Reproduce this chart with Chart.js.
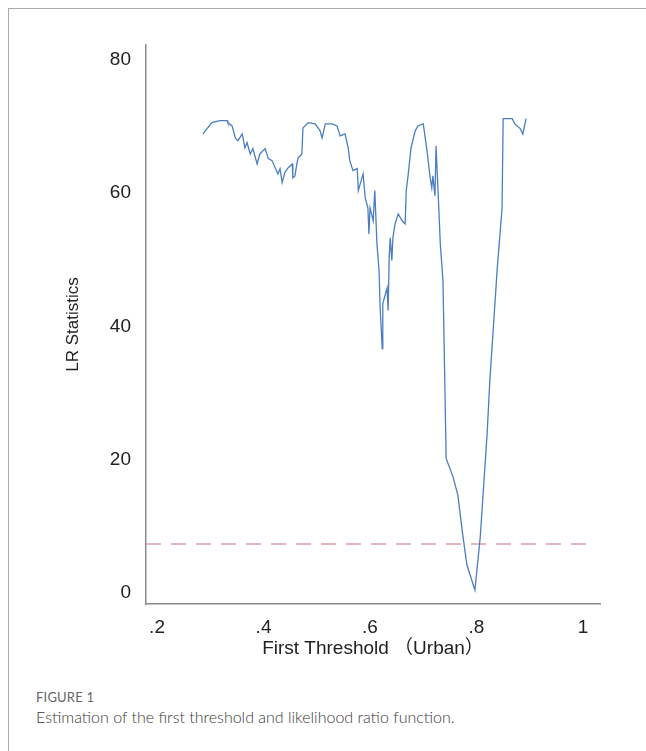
<!DOCTYPE html>
<html>
<head>
<meta charset="utf-8">
<script src="https://cdn.jsdelivr.net/npm/chart.js@4.4.1/dist/chart.umd.min.js"></script>
<style>
  body { margin: 0; background: #fff; width: 646px; height: 751px; overflow: hidden; position: relative; }
  #frame { position: absolute; left: 8px; top: 8px; width: 660px; height: 760px; border-top: 1px solid #aaa; border-left: 1px solid #aaa; }
  #chart-area { position: absolute; left: 0; top: 0; }
  #fig { position: absolute; left: 36px; top: 689px; font-family: Lato, sans-serif; font-size: 13px; color: #666; letter-spacing: 0.2px; }
  #caption { position: absolute; left: 36px; top: 707px; font-family: Lato, sans-serif; font-weight: 300; font-size: 16px; color: #3a3a3a; }
</style>
</head>
<body>
<div id="frame"></div>
<canvas id="chart-area" width="646" height="680"></canvas>
<div id="fig">FIGURE 1</div>
<div id="caption">Estimation of the first threshold and likelihood ratio function.</div>
<script>
// threshold values (x) and LR statistics (y)
var thresholds = [0.286, 0.303, 0.318, 0.332, 0.333, 0.341, 0.347, 0.352, 0.360, 0.365,
    0.369, 0.375, 0.380, 0.388, 0.393, 0.403, 0.409, 0.416, 0.422, 0.427,
    0.431, 0.435, 0.440, 0.446, 0.454, 0.455, 0.459, 0.463, 0.465, 0.472,
    0.474, 0.484, 0.497, 0.506, 0.510, 0.516, 0.529, 0.538, 0.544, 0.553,
    0.559, 0.562, 0.568, 0.576, 0.578, 0.587, 0.591, 0.596, 0.598, 0.600,
    0.606, 0.609, 0.613, 0.617, 0.619, 0.623, 0.624, 0.632, 0.634, 0.636,
    0.638, 0.641, 0.643, 0.647, 0.653, 0.660, 0.666, 0.668, 0.671, 0.677,
    0.685, 0.690, 0.700, 0.707, 0.713, 0.716, 0.718, 0.722, 0.724, 0.728,
    0.732, 0.737, 0.743, 0.756, 0.765, 0.773, 0.782, 0.797, 0.807, 0.820,
    0.825, 0.839, 0.848, 0.850, 0.867, 0.872, 0.882, 0.887, 0.893];
var lrStats = [68.9, 70.6, 70.9, 70.9, 70.6, 70.1, 68.3, 67.9, 68.9, 66.8,
    67.6, 65.9, 66.7, 64.4, 65.9, 66.7, 65.2, 64.9, 63.8, 62.9,
    63.7, 61.6, 63.1, 63.8, 64.4, 62.3, 62.6, 64.6, 65.3, 65.9,
    69.8, 70.6, 70.4, 69.4, 68.3, 70.4, 70.4, 70.1, 68.6, 68.9,
    66.8, 64.9, 63.4, 63.7, 60.4, 62.9, 59.3, 57.8, 53.9, 57.8,
    55.9, 60.4, 52.4, 48.4, 42.8, 36.7, 43.4, 45.8, 42.4, 50.3,
    53.3, 49.9, 53.3, 55.4, 56.9, 55.9, 55.4, 60.4, 62.3, 66.8,
    69.4, 70.1, 70.4, 66.4, 62.3, 60.8, 62.6, 59.6, 67.1, 59.9,
    52.4, 46.9, 20.2, 17.4, 14.7, 9.4, 4.2, 0.45, 8.4, 24.0,
    31.9, 48.8, 57.8, 71.2, 71.2, 70.4, 69.7, 68.9, 71.2];

// 5% critical value (dashed line)
var criticalValue = 7.35;

var xTicks = [0.2, 0.4, 0.6, 0.8, 1];
var yTicks = [0, 20, 40, 60, 80];
var xRange = [0.1793, 1.0319];
var yRange = [-1.65, 82.25];

var lrPoints = [];
for (var i = 0; i < thresholds.length; i++) {
    lrPoints.push({ x: thresholds[i], y: lrStats[i] });
}
var critPoints = [{ x: xRange[0], y: criticalValue }, { x: 1.016, y: criticalValue }];

var tickFont = { family: "'Liberation Sans', Arial, sans-serif", size: 19 };
var titleFont = { family: "'Liberation Sans', Arial, 'Noto Sans CJK SC', sans-serif", size: 19 };

var config = {
    type: 'line',
    data: {
        datasets: [{
            data: lrPoints,
            borderColor: '#4b7dc1',
            borderWidth: 1.3,
            pointRadius: 0,
            tension: 0,
            fill: false
        }, {
            data: critPoints,
            borderColor: '#d7a3a6',
            borderWidth: 1.6,
            borderDash: [15, 10],
            pointRadius: 0,
            tension: 0,
            fill: false
        }]
    },
    options: {
        responsive: false,
        animation: false,
        layout: { padding: { left: 55, top: 45, right: 46, bottom: 16 } },
        plugins: { legend: { display: false }, tooltip: { enabled: false } },
        scales: {
            x: {
                type: 'linear',
                min: xRange[0],
                max: xRange[1],
                grid: { display: false, drawTicks: false },
                border: { display: true, color: '#8a8a8a', width: 1.5 },
                afterBuildTicks: function (scale) {
                    scale.ticks = xTicks.map(function (v) { return { value: v }; });
                },
                afterFit: function (scale) { scale.height = 60; },
                ticks: {
                    padding: 12,
                    color: '#222',
                    font: tickFont,
                    maxRotation: 0,
                    callback: function (v) { return v === 1 ? '1' : String(v).replace(/^0/, ''); }
                },
                title: {
                    display: true,
                    text: 'First Threshold （Urban）',
                    color: '#222',
                    font: titleFont,
                    padding: { top: 0, bottom: 4 }
                }
            },
            y: {
                min: yRange[0],
                max: yRange[1],
                grid: { display: false, drawTicks: false },
                border: { display: true, color: '#8a8a8a', width: 1.5 },
                afterBuildTicks: function (scale) {
                    scale.ticks = yTicks.map(function (v) { return { value: v }; });
                },
                afterFit: function (scale) { scale.width = 91; },
                ticks: {
                    padding: 15,
                    color: '#222',
                    font: tickFont
                },
                title: {
                    display: true,
                    text: 'LR Statistics',
                    color: '#222',
                    font: { family: titleFont.family, size: 17 },
                    padding: { top: 8, bottom: 0 }
                }
            }
        }
    }
};

var ctx = document.getElementById("chart-area").getContext("2d");
window.myLine = new Chart(ctx, config);
</script>
</body>
</html>
